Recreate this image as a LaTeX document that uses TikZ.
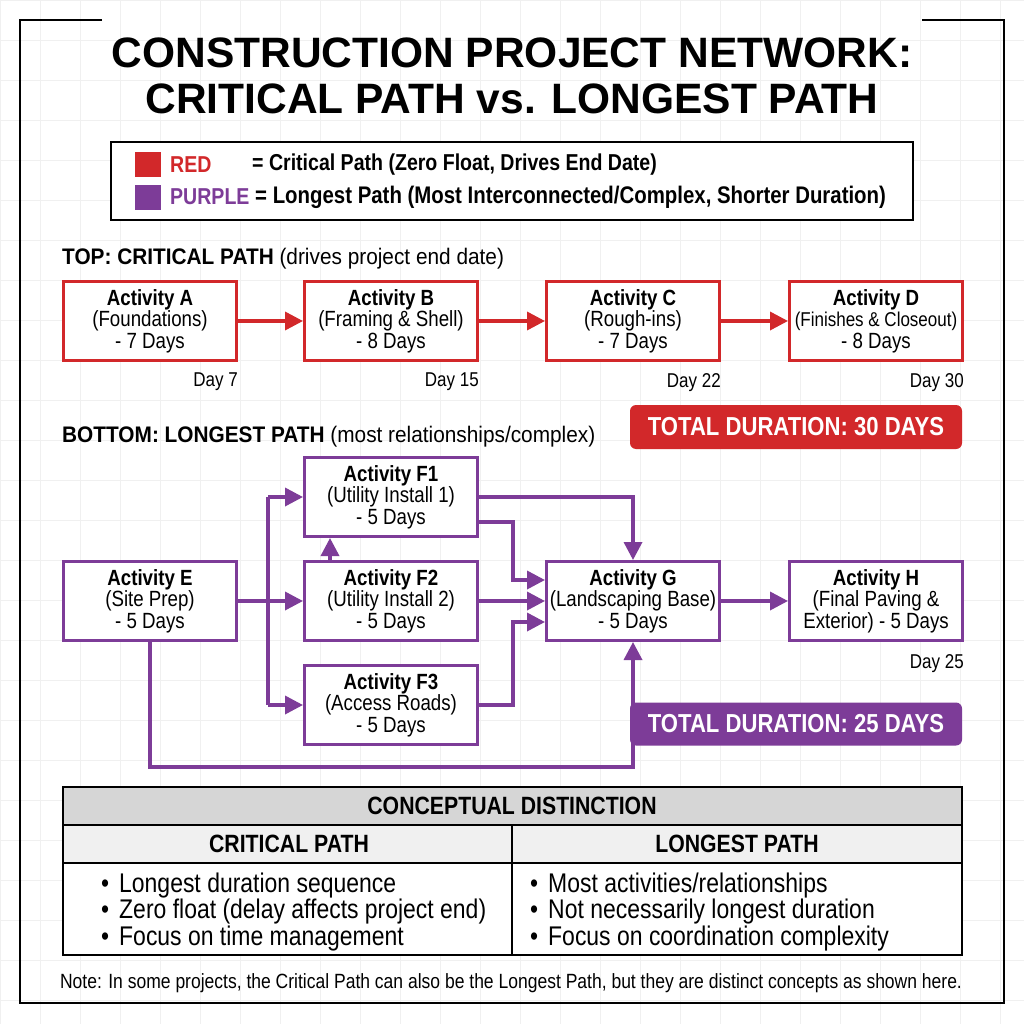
\documentclass[tikz,border=0pt]{standalone}
\usepackage{fontspec}
\setmainfont{Liberation Sans}
\newfontfamily\condfont[FakeStretch=0.85]{Liberation Sans}
\newfontfamily\headfont[FakeStretch=0.925]{Liberation Sans}
\usetikzlibrary{positioning,arrows.meta}
\definecolor{cpred}{RGB}{210,40,42}
\definecolor{lppurple}{RGB}{125,60,152}
\definecolor{headgray}{RGB}{214,214,214}
\definecolor{subgray}{RGB}{240,240,240}
\tikzset{
  act/.style={draw, line width=3pt, fill=white, minimum width=173pt, minimum height=79pt,
    inner sep=0pt, align=center, font=\condfont\fontsize{22}{21.5}\selectfont},
  redact/.style={act, draw=cpred},
  purpact/.style={act, draw=lppurple},
  redflow/.style={draw=cpred, line width=3.5pt, -{Triangle[length=18pt,width=18pt]}},
  purpflow/.style={draw=lppurple, line width=3.5pt, -{Triangle[length=18pt,width=18pt]}},
  purpline/.style={draw=lppurple, line width=3.5pt},
  daylabel/.style={inner sep=0pt, font=\condfont\fontsize{20}{20}\selectfont},
  totalbox/.style={rounded corners=6pt, minimum width=332pt, minimum height=44pt, inner sep=0pt,
    text=white, font=\condfont\bfseries\fontsize{26}{26}\selectfont},
  legendtext/.style={anchor=west, inner sep=0pt, font=\condfont\bfseries\fontsize{23}{23}\selectfont},
  headtext/.style={anchor=west, inner sep=0pt, font=\headfont\fontsize{22.5}{22.5}\selectfont},
  tablehead/.style={inner sep=0pt, font=\condfont\bfseries\fontsize{25}{25}\selectfont},
  bullets/.style={anchor=west, inner sep=0pt, align=left, font=\condfont\fontsize{27}{26.5}\selectfont},
  tableline/.style={line width=2.5pt},
  gridline/.style={black!6, line width=0.8pt}
}

\begin{document}
\begin{tikzpicture}[x=1pt, y=-1pt]
\useasboundingbox (0,0) rectangle (1024,1024);
\fill[white] (0,0) rectangle (1024,1024);
\draw[gridline] (0,0) grid[step=40pt] (1024,1024);

% frame and title
\draw[line width=1.5pt] (102,20) -- (20,20) -- (20,1003) -- (1004,1003) -- (1004,20) -- (922,20);
\node[align=center, font=\bfseries\fontsize{42.5}{46}\selectfont] (title) at (512,76)
  {CONSTRUCTION PROJECT NETWORK:\\CRITICAL PATH vs. LONGEST PATH};

% legend
\draw[line width=2pt, fill=white] (111,142) rectangle (913,220);
\fill[cpred] (135,152) rectangle (161,177);
\fill[lppurple] (135,185) rectangle (161,210);
\node[legendtext, text=cpred] (redKey) at (170,165) {RED};
\node[legendtext] (redMeaning) at (252,165) {= Critical Path (Zero Float, Drives End Date)};
\node[legendtext, text=lppurple] (purpKey) at (170,197) {PURPLE};
\node[legendtext, font=\condfont\bfseries\fontsize{24}{24}\selectfont] (purpMeaning) at (255,197)
  {= Longest Path (Most Interconnected/Complex, Shorter Duration)};

% top: critical path
\node[headtext] (topHead) at (62,259) {\textbf{TOP: CRITICAL PATH} (drives project end date)};

\node[redact] (A) at (150,321) {\textbf{Activity A}\\(Foundations)\\- 7 Days};
\node[redact] (B) at (391,321) {\textbf{Activity B}\\(Framing \& Shell)\\- 8 Days};
\node[redact] (C) at (633,321) {\textbf{Activity C}\\(Rough-ins)\\- 7 Days};
\node[redact] (D) at (876,321) {\textbf{Activity D}\\{\fontsize{20}{21.5}\selectfont(Finishes \& Closeout)}\\- 8 Days};

\draw[redflow] (A) -- (B);
\draw[redflow] (B) -- (C);
\draw[redflow] (C) -- (D);

\node[daylabel, below left=11pt and 0pt of A.south east] (dayA) {Day 7};
\node[daylabel, below left=11pt and 0pt of B.south east] (dayB) {Day 15};
\node[daylabel, below left=11pt and 0pt of C.south east] (dayC) {Day 22};
\node[daylabel, below left=11pt and 0pt of D.south east] (dayD) {Day 30};

\node[totalbox, fill=cpred] (redTotal) at (796,427) {TOTAL DURATION: 30 DAYS};

% bottom: longest path
\node[headtext] (botHead) at (62,437) {\textbf{BOTTOM: LONGEST PATH} (most relationships/complex)};

\node[purpact] (E) at (150,601) {\textbf{Activity E}\\(Site Prep)\\- 5 Days};
\node[purpact] (F1) at (391,497) {\textbf{Activity F1}\\(Utility Install 1)\\- 5 Days};
\node[purpact] (F2) at (391,601) {\textbf{Activity F2}\\(Utility Install 2)\\- 5 Days};
\node[purpact] (F3) at (391,705) {\textbf{Activity F3}\\(Access Roads)\\- 5 Days};
\node[purpact] (G) at (633,601) {\textbf{Activity G}\\(Landscaping Base)\\- 5 Days};
\node[purpact] (H) at (876,601) {\textbf{Activity H}\\(Final Paving \&\\Exterior) - 5 Days};

\coordinate (busTop) at (268,497);
\coordinate (busBot) at (268,705);

\draw[purpflow] (E) -- (F2);
\draw[purpline] (busTop) -- (busBot);
\draw[purpflow] (busTop) -- (F1);
\draw[purpflow] (busBot) -- (F3);
\draw[purpflow] ([xshift=-61pt]F2.north) -- ([xshift=-61pt]F1.south);
\draw[purpflow] (F1.east) -| (G.north);
\draw[purpflow] ([yshift=-25pt]F1.east) -- ++(34,0) |- ([yshift=21pt]G.west);
\draw[purpflow] (F2) -- (G);
\draw[purpflow] (F3.east) -- ++(34,0) |- ([yshift=-21pt]G.west);
\draw[purpflow] (E.south) -- ++(0,125) -| (G.south);
\draw[purpflow] (G) -- (H);

\node[daylabel, below left=12pt and 0pt of H.south east] (dayH) {Day 25};

\node[totalbox, fill=lppurple, minimum height=43pt] (purpTotal) at (796,724) {TOTAL DURATION: 25 DAYS};

% table
\draw[tableline, fill=headgray] (63,787) rectangle (962,825);
\draw[tableline, fill=subgray] (63,825) rectangle (962,863);
\draw[tableline, fill=white] (63,863) rectangle (962,955);
\draw[tableline] (512,825) -- (512,955);

\node[tablehead] (tabTitle) at (512,806) {CONCEPTUAL DISTINCTION};
\node[tablehead] (critHead) at (289,844) {CRITICAL PATH};
\node[tablehead] (longHead) at (737,844) {LONGEST PATH};

\node[bullets] (critList) at (101,912)
  {•\hspace{10pt}Longest duration sequence\\•\hspace{10pt}Zero float (delay affects project end)\\•\hspace{10pt}Focus on time management};
\node[bullets] (longList) at (530,912)
  {•\hspace{10pt}Most activities/relationships\\•\hspace{10pt}Not necessarily longest duration\\•\hspace{10pt}Focus on coordination complexity};

\node[font=\condfont\fontsize{20.6}{20.6}\selectfont, inner sep=0pt] (note) at (511,983)
  {Note: In some projects, the Critical Path can also be the Longest Path, but they are distinct concepts as shown here.};
\end{tikzpicture}
\end{document}
